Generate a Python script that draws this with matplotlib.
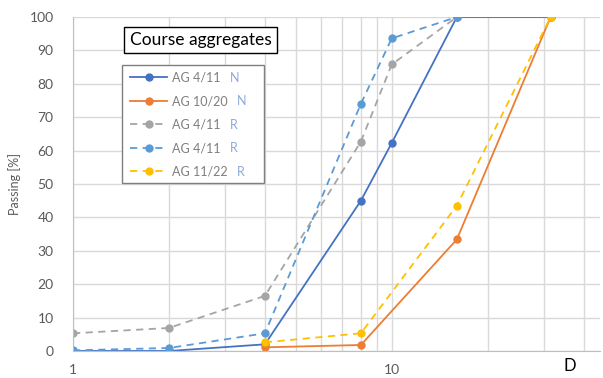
import matplotlib
matplotlib.use("Agg")
import matplotlib.pyplot as plt
from matplotlib.patches import Rectangle
from matplotlib.ticker import FixedLocator, NullFormatter

plt.rcParams['font.family'] = ['Lato', 'DejaVu Sans']

# sieve sizes [mm]
sieves = [1, 2, 4, 8, 10, 16, 31.5]

ag411_n_x = [1, 2, 4, 8, 10, 16, 31.5]
ag411_n = [0, 0, 2.0, 45.0, 62.3, 100, 100]

ag1020_n_x = [4, 8, 16, 31.5]
ag1020_n = [1.1, 1.8, 33.4, 100]

ag411_r_gray_x = [1, 2, 4, 8, 10, 16]
ag411_r_gray = [5.3, 6.9, 16.5, 62.7, 85.8, 100]

ag411_r_blue_x = [1, 2, 4, 8, 10, 16]
ag411_r_blue = [0.2, 0.9, 5.3, 74.0, 93.6, 100]

ag1122_r_x = [4, 8, 16, 31.5]
ag1122_r = [2.6, 5.3, 43.5, 100]

labels = ["AG 4/11", "AG 10/20", "AG 4/11", "AG 4/11", "AG 11/22"]
tags = ["N", "N", "R", "R", "R"]
colors = ["#4472C4", "#ED7D31", "#A5A5A5", "#5B9BD5", "#FFC000"]
styles = ["-", "-", "--", "--", "--"]

fig = plt.figure(figsize=(6.03, 3.78), dpi=100)
ax = fig.add_axes([73/603, 1-351/378, (600-73)/603, (351-17)/378])

series = [(ag411_n_x, ag411_n), (ag1020_n_x, ag1020_n),
          (ag411_r_gray_x, ag411_r_gray), (ag411_r_blue_x, ag411_r_blue),
          (ag1122_r_x, ag1122_r)]
handles = []
for (xs, ys), lab, c, ls in zip(series, labels, colors, styles):
    h, = ax.plot(xs, ys, ls, color=c, lw=1.3, marker='o', ms=5,
                 dashes=(4, 3) if ls == '--' else (None, None), label=lab)
    handles.append(h)

ax.set_xscale('log')
ax.set_xlim(1, 45)
ax.set_ylim(0, 100)
ax.set_yticks(range(0, 101, 10))
ax.xaxis.set_major_locator(FixedLocator([1, 10]))
ax.xaxis.set_minor_locator(FixedLocator([2, 3, 4, 5, 6, 7, 8, 9, 20, 30, 40]))
ax.xaxis.set_minor_formatter(NullFormatter())
ax.set_xticklabels(['1', '10'])
ax.grid(True, which='both', color='#D9D9D9', lw=1)
ax.set_axisbelow(True)
ax.tick_params(length=0, which='both', colors='#595959', labelsize=10)
ax.tick_params(axis='y', pad=14)
ax.tick_params(axis='x', pad=9)
for s in ['top', 'right']:
    ax.spines[s].set_visible(False)
for s in ['left', 'bottom']:
    ax.spines[s].set_color('#BFBFBF')

ax.set_ylabel('Passing [%]', color='#595959', fontsize=9, labelpad=6)
fig.text(570/603, 1-366/378, 'D', fontsize=12, color='black', ha='center', va='center')

fig.text(200.5/603, 1-40/378, 'Course aggregates', fontsize=12.5, ha='center', va='center',
         bbox=dict(boxstyle='square,pad=0.3', fc='white', ec='black', lw=1))

# legend box drawn by hand so there is room for the N / R tags
ax.add_patch(Rectangle((122/603, 1-183/378), 142/603, 118/378,
                       transform=fig.transFigure, fc='white', ec='#7F7F7F',
                       lw=1, zorder=4, clip_on=False))
leg = ax.legend(handles=handles, labels=labels, loc='upper left',
                bbox_to_anchor=((126-73)/527, (351-68)/334), borderaxespad=0,
                fontsize=9, frameon=False, labelcolor='#7F7F7F',
                handlelength=3.0, labelspacing=0.92, borderpad=0.3, handletextpad=0.4)
leg.set_zorder(5)

fig.canvas.draw()
for txt, tag in zip(leg.get_texts(), tags):
    bb = txt.get_window_extent()
    fig.text((bb.x1 + 9) / 603, (bb.y0 + bb.y1) / 2 / 378, tag, fontsize=9,
             color='#8EA9DB', va='center', ha='left', zorder=6)

fig.savefig('out.png', dpi=100)
